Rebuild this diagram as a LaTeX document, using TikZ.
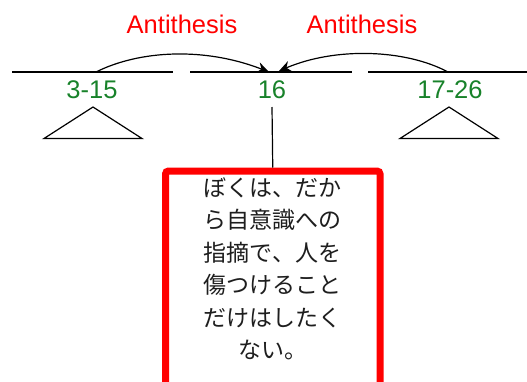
\documentclass[tikz,border=0pt]{standalone}
\usepackage{fontspec}
\setmainfont{Liberation Sans}
\newfontfamily\jp{Noto Sans CJK JP}
\usetikzlibrary{arrows.meta}
\definecolor{lblgreen}{RGB}{24,130,42}
\definecolor{boxred}{RGB}{255,0,0}
\definecolor{jptext}{RGB}{30,30,30}
\tikzset{
  tline/.style={line width=1.2pt},
  numlbl/.style={text=lblgreen, font=\fontsize{25.5}{30}\selectfont, inner sep=0pt},
  antilbl/.style={text=boxred, font=\fontsize{25.5}{30}\selectfont, inner sep=0pt},
  arc/.style={line width=1.2pt, -{Stealth[length=12pt,width=11pt]}},
  redbox/.style={draw=boxred, line width=7pt, rounded corners=3pt, fill=white, minimum width=214.5pt, minimum height=250pt, inner sep=0pt},
  jpbody/.style={text=jptext, align=center, inner sep=0pt, font=\jp\fontsize{23}{32.5}\selectfont}
}
\begin{document}
\begin{tikzpicture}[x=1pt,y=-1pt]
\useasboundingbox (0,0) rectangle (527,381);
% horizontal lines
\coordinate (l1a) at (12,72);   \coordinate (l1b) at (173,72);
\coordinate (l2a) at (190,72);  \coordinate (l2b) at (352,72);
\coordinate (l3a) at (368,72);  \coordinate (l3b) at (527,72);
\draw[tline] (l1a) -- (l1b);
\draw[tline] (l2a) -- (l2b);
\draw[tline] (l3a) -- (l3b);
% labels
\node[numlbl] (n315) at (92,90) {3-15};
\node[numlbl] (n16) at (272,90) {16};
\node[numlbl] (n1726) at (450,90) {17-26};
\node[antilbl] (a1) at (182,24) {Antithesis};
\node[antilbl] (a2) at (362,24) {Antithesis};
% triangles
\coordinate (t1) at (93,107);
\draw[tline] (t1) -- (142,138.5) -- (44,138.5) -- cycle;
\coordinate (t2) at (449,107);
\draw[tline] (t2) -- (498,138.5) -- (400,138.5) -- cycle;
% arcs
\coordinate (s1) at (96,72);
\coordinate (e1) at (269,72);
\coordinate (s2) at (448,72);
\coordinate (e2) at (279,71);
\draw[arc] (s1) .. controls (140,50) and (205,47) .. (e1);
\draw[arc] (s2) .. controls (405,49) and (335,47) .. (e2);
% box
\node[redbox, anchor=north] (box) at (272.75,167.5) {};
\coordinate (v1) at (272,107);
\draw[tline] (v1) -- (box.north);
\node[jpbody, anchor=north] (txt) at (272.5,177) {ぼくは、だか\\ら自意識への\\指摘で、人を\\傷つけること\\だけはしたく\\ない。};
\end{tikzpicture}
\end{document}
